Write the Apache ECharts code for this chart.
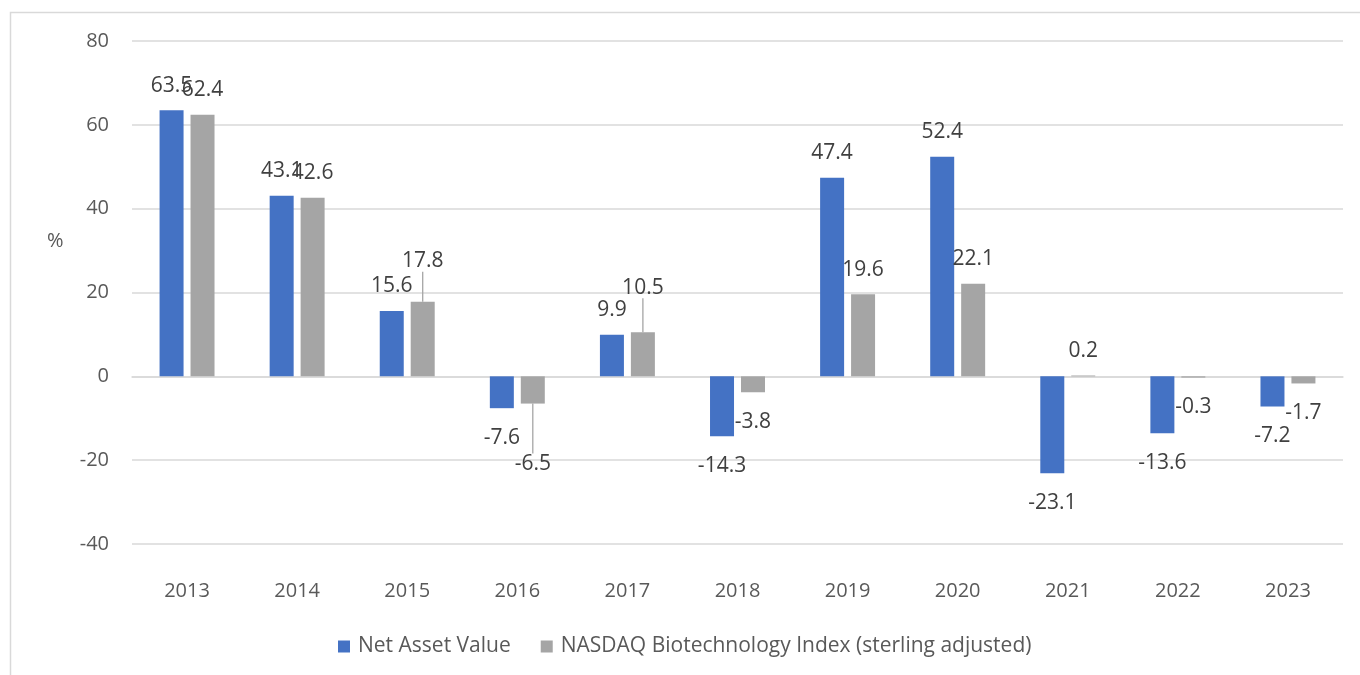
<!DOCTYPE html>
<html>
<head>
<meta charset="utf-8">
<script src="https://cdn.jsdelivr.net/npm/echarts@6/dist/echarts.min.js"></script>
<style>html,body{margin:0;padding:0;background:#fff;}#c{width:1360px;height:675px;}</style>
</head>
<body>
<div id="c"></div>
<script>
const categories = ['2013','2014','2015','2016','2017','2018','2019','2020','2021','2022','2023'];
const navValues = [63.5, 43.1, 15.6, -7.6, 9.9, -14.3, 47.4, 52.4, -23.1, -13.6, -7.2];
const nasdaqValues = [62.4, 42.6, 17.8, -6.5, 10.5, -3.8, 19.6, 22.1, 0.2, -0.3, -1.7];
const yTicks = [-40, -20, 0, 20, 40, 60, 80];
const seriesNames = ['Net Asset Value', 'NASDAQ Biotechnology Index (sterling adjusted)'];

// label displacement (pixels) for the grey series, by index
const greyLabelShift = {2: -16, 3: 31, 4: -20};

const FONT = 'Open Sans';
function items(values, shift) {
  return values.map(function (v, i) {
    const o = {
      value: v,
      label: { position: v >= 0 ? 'top' : 'bottom', distance: v >= 0 ? 14 : 19 }
    };
    if (shift && shift[i] !== undefined) {
      o.labelLine = { show: true, lineStyle: { color: '#A5A5A5', width: 1.3 } };
    }
    return o;
  });
}

const chart = echarts.init(document.getElementById('c'));
chart.setOption({
  animation: false,
  backgroundColor: '#fff',
  textStyle: { fontFamily: FONT },
  graphic: [
    { type: 'rect', shape: { x: 10.5, y: 12.5, width: 1400, height: 700 },
      style: { fill: 'none', stroke: '#D9D9D9', lineWidth: 1.5 }, silent: true },
    { type: 'text', left: 47, top: 231,
      style: { text: '%', font: '20px "Open Sans"', fill: '#595959' } }
  ],
  grid: { left: 132, right: 17, top: 41, bottom: 131, containLabel: false },
  legend: {
    data: seriesNames,
    left: 333, top: 631,
    itemWidth: 12, itemHeight: 12, itemGap: 30,
    icon: 'rect',
    textStyle: { fontFamily: FONT, fontSize: 21, color: '#595959', padding: [0, 0, 0, 3] }
  },
  xAxis: {
    type: 'category',
    data: categories,
    axisLine: { show: true, onZero: true, lineStyle: { color: '#D9D9D9', width: 1.5 } },
    axisTick: { show: false },
    axisLabel: { color: '#595959', fontFamily: FONT, fontSize: 20, margin: 37 },
    position: 'bottom'
  },
  yAxis: {
    type: 'value',
    min: yTicks[0], max: yTicks[yTicks.length - 1], interval: 20,
    axisLine: { show: false },
    axisTick: { show: false },
    splitLine: { lineStyle: { color: '#D9D9D9', width: 1.5 } },
    axisLabel: { color: '#595959', fontFamily: FONT, fontSize: 20, margin: 23 }
  },
  series: [
    {
      name: seriesNames[0], type: 'bar', data: items(navValues),
      barWidth: 24, barGap: '29%',
      itemStyle: { color: '#4472C4' },
      label: { show: true, color: '#404040', fontFamily: FONT, fontSize: 21 }
    },
    {
      name: seriesNames[1], type: 'bar', data: items(nasdaqValues, greyLabelShift),
      barWidth: 24, barGap: '29%',
      itemStyle: { color: '#A5A5A5' },
      label: { show: true, color: '#404040', fontFamily: FONT, fontSize: 21 },
      labelLayout: function (p) {
        const s = greyLabelShift[p.dataIndex];
        return s !== undefined ? { dy: s } : {};
      }
    }
  ]
});
</script>
</body>
</html>
